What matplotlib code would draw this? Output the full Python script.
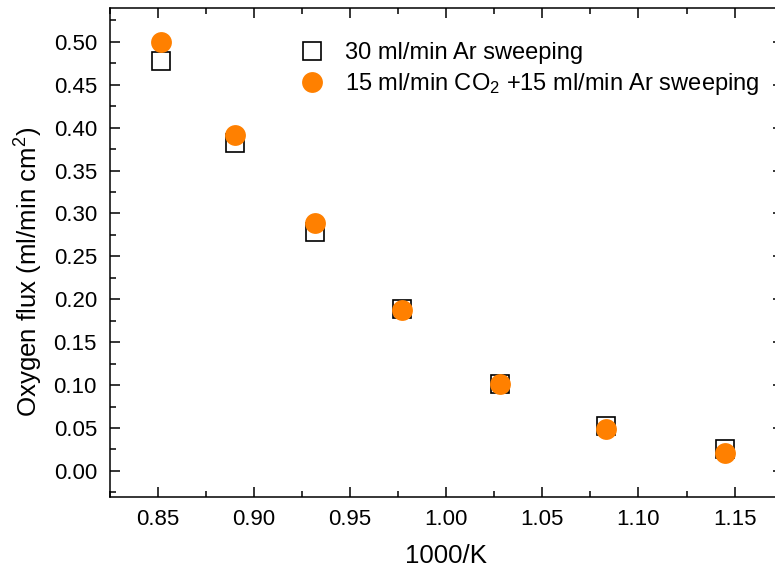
import matplotlib
matplotlib.use("Agg")
import matplotlib.pyplot as plt
from matplotlib.ticker import MultipleLocator

plt.rcParams['font.family'] = ['Liberation Sans', 'DejaVu Sans']
plt.rcParams['mathtext.fontset'] = 'custom'
plt.rcParams['mathtext.rm'] = 'Liberation Sans'
plt.rcParams['mathtext.it'] = 'Liberation Sans:italic'

# Data
x_ar = [0.852, 0.890, 0.932, 0.977, 1.028, 1.083, 1.145]
y_ar = [0.478, 0.382, 0.278, 0.189, 0.101, 0.052, 0.026]
x_co2 = [0.852, 0.890, 0.932, 0.977, 1.028, 1.083, 1.145]
y_co2 = [0.500, 0.391, 0.289, 0.188, 0.101, 0.049, 0.021]
label_ar = "30 ml/min Ar sweeping"
label_co2 = "15 ml/min CO$_2$ +15 ml/min Ar sweeping"

W, H = 775, 571
fig = plt.figure(figsize=(W/100, H/100), dpi=100)
ax = fig.add_axes([109.5/W, (H-496.7)/H, (782.7-109.5)/W, (496.7-7.5)/H])

ax.plot(x_ar, y_ar, linestyle='none', marker='s', markersize=12.5,
        markerfacecolor='white', markeredgecolor='black', markeredgewidth=1.2,
        label=label_ar, zorder=3)
ax.plot(x_co2, y_co2, linestyle='none', marker='o', markersize=15,
        markerfacecolor='#ff8000', markeredgecolor='#ff8000', markeredgewidth=0,
        label=label_co2, zorder=4)

ax.set_xlim(0.825, 1.175)
ax.set_ylim(-0.03, 0.54)
ax.xaxis.set_major_locator(MultipleLocator(0.05))
ax.xaxis.set_minor_locator(MultipleLocator(0.025))
ax.yaxis.set_major_locator(MultipleLocator(0.05))
ax.yaxis.set_minor_locator(MultipleLocator(0.025))
ax.xaxis.set_major_formatter(matplotlib.ticker.FormatStrFormatter('%.2f'))
ax.yaxis.set_major_formatter(matplotlib.ticker.FormatStrFormatter('%.2f'))

for s in ax.spines.values():
    s.set_linewidth(1.1)
ax.tick_params(which='both', direction='in', top=True, right=True, width=1.1)
ax.tick_params(which='major', length=7, labelsize=16, pad=9)
ax.tick_params(which='minor', length=4)

ax.set_xlabel("1000/K", fontsize=18.6, va='center')
ax.set_ylabel("Oxygen flux (ml/min cm$^2$)", fontsize=18.6, va='center')
ax.xaxis.set_label_coords(0.5, (496.7-556)/(496.7-7.5))
ax.yaxis.set_label_coords((28.5-109.5)/(782.7-109.5), (496.7-272)/(496.7-7.5))

leg = ax.legend(loc='upper left', bbox_to_anchor=((300-109.5)/(782.7-109.5), (496.7-42)/(496.7-7.5)),
                frameon=False, fontsize=17, handlelength=1.0, handletextpad=0.9,
                labelspacing=0.3, borderpad=0, borderaxespad=0)

fig.savefig("out.png", dpi=100)
